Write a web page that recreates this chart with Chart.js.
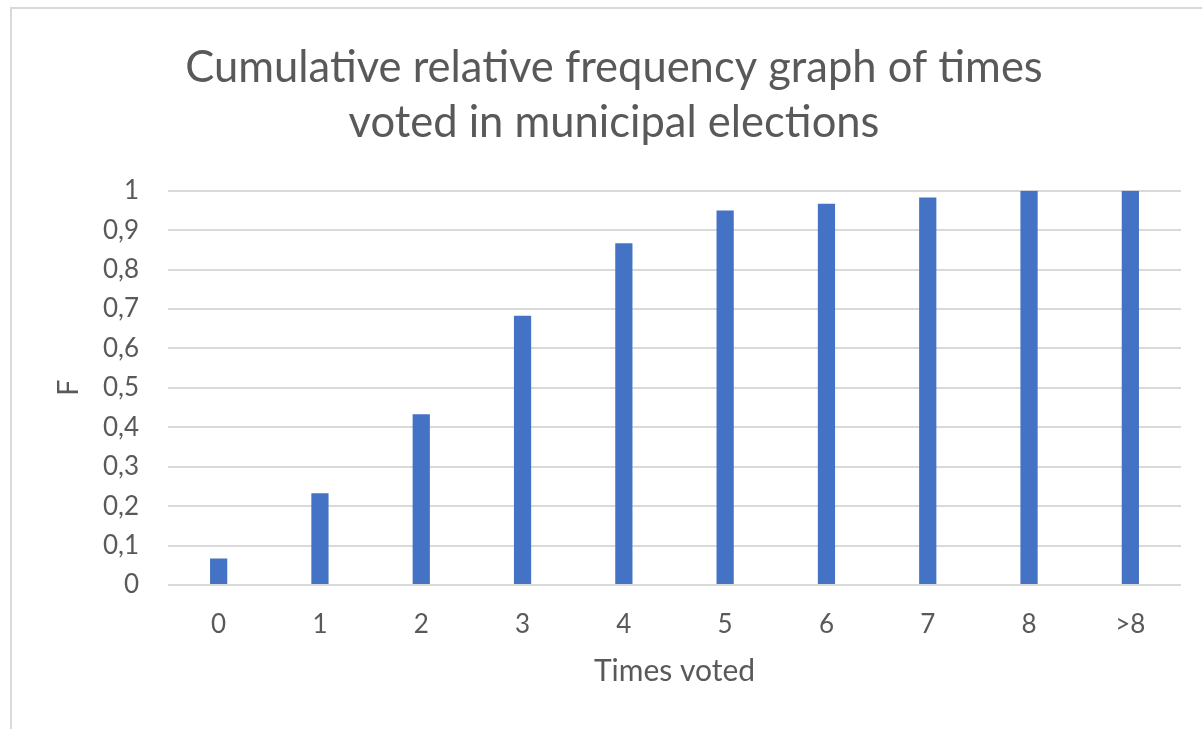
<!DOCTYPE html>
<html>
<head>
<meta charset="utf-8">
<title>Cumulative relative frequency graph</title>
<script src="https://cdn.jsdelivr.net/npm/chart.js@4/dist/chart.umd.min.js"></script>
<style>
  html, body { margin: 0; padding: 0; background: #ffffff; overflow: hidden; }
  #frame {
    position: absolute; left: 10px; top: 7px;
    width: 1260px; height: 800px;
    border: 2px solid #d9d9d9; box-sizing: border-box;
  }
  #wrap { position: absolute; left: 0; top: 0; width: 1202px; height: 729px; }
</style>
</head>
<body>
<div id="frame"></div>
<div id="wrap"><canvas id="c" width="1202" height="729"></canvas></div>
<script>
// Number of times each respondent voted, and the cumulative relative frequency F
const categories = ['0', '1', '2', '3', '4', '5', '6', '7', '8', '>8'];
const cumulativeF = [0.067, 0.233, 0.433, 0.683, 0.867, 0.95, 0.967, 0.983, 1, 1];
const yTickLabels = ['0', '0,1', '0,2', '0,3', '0,4', '0,5', '0,6', '0,7', '0,8', '0,9', '1'];
const titleLines = ['Cumulative relative frequency graph of times', 'voted in municipal elections'];
const xAxisTitle = 'Times voted';
const yAxisTitle = 'F';

const FONT = "Lato, 'Open Sans', sans-serif";
const TEXT = '#595959';

new Chart(document.getElementById('c'), {
  type: 'bar',
  data: {
    labels: categories,
    datasets: [{
      label: yAxisTitle,
      data: cumulativeF,
      backgroundColor: '#4472c4',
      borderWidth: 0,
      categoryPercentage: 1.0,
      barPercentage: 0.17
    }]
  },
  options: {
    responsive: false,
    animation: false,
    layout: { padding: { left: 47, right: 21, top: 0, bottom: 0 } },
    plugins: {
      legend: { display: false },
      tooltip: { enabled: false },
      title: {
        display: true,
        text: titleLines,
        color: TEXT,
        font: { family: FONT, size: 43.5, weight: 'normal', lineHeight: 1.25 },
        padding: { top: 41, bottom: 41 }
      }
    },
    scales: {
      x: {
        grid: { display: false, drawTicks: false },
        border: { display: false },
        ticks: { color: TEXT, font: { family: FONT, size: 26 }, padding: 24, maxRotation: 0 },
        title: {
          display: true, text: xAxisTitle, color: TEXT,
          font: { family: FONT, size: 30, lineHeight: 1.2 },
          padding: { top: 0, bottom: 40 }
        },
        afterFit: (scale) => { scale.height = 144; }
      },
      y: {
        min: 0, max: 1,
        grid: { color: '#d9d9d9', lineWidth: 2, drawTicks: false },
        border: { display: false },
        ticks: {
          stepSize: 0.1, color: TEXT, font: { family: FONT, size: 26 }, padding: 29,
          callback: (value, index) => yTickLabels[index]
        },
        title: {
          display: true, text: yAxisTitle, color: TEXT,
          font: { family: FONT, size: 29, lineHeight: 1.2 },
          padding: { top: 4, bottom: 0 }
        },
        afterFit: (scale) => { scale.width = 121; }
      }
    }
  }
});
</script>
</body>
</html>
